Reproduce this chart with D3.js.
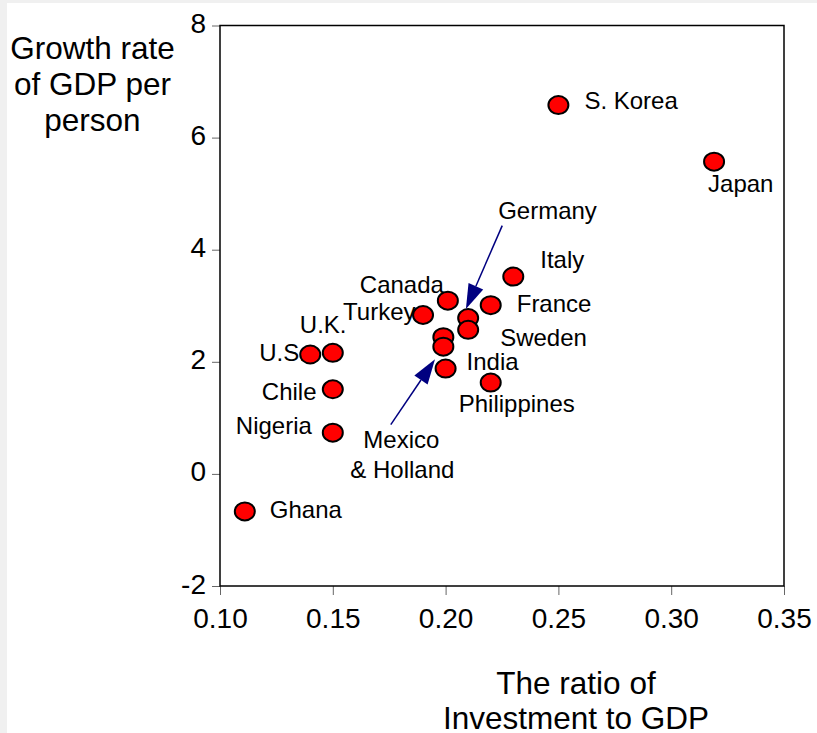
<!DOCTYPE html>
<html>
<head>
<meta charset="utf-8">
<script src="https://cdn.jsdelivr.net/npm/d3@7"></script>
<style>
  html, body { margin: 0; padding: 0; background: #f0f0f0; }
  svg { display: block; }
  text { font-family: "Liberation Sans", Arial, sans-serif; fill: #000; }
</style>
</head>
<body>
<svg id="chart" width="817" height="733"></svg>
<script>
// ---- data ----
const countries  = ["U.S.", "U.K.", "Chile", "Nigeria", "Turkey", "Canada", "Germany", "Sweden", "France", "Italy", "Mexico", "Holland", "India", "Philippines", "S. Korea", "Japan", "Ghana"];
const investment = [0.14, 0.15, 0.15, 0.15, 0.19, 0.201, 0.21, 0.21, 0.22, 0.23, 0.199, 0.199, 0.20, 0.22, 0.25, 0.319, 0.111];
const growth     = [2.13, 2.16, 1.51, 0.735, 2.835, 3.09, 2.78, 2.57, 3.01, 3.52, 2.44, 2.27, 1.88, 1.63, 6.58, 5.57, -0.67];
const xTicks = [0.10, 0.15, 0.20, 0.25, 0.30, 0.35];
const yTicks = [-2, 0, 2, 4, 6, 8];
const yTitle = ["Growth rate", "of GDP per", "person"];
const xTitle = ["The ratio of", "Investment to GDP"];
// annotation arrows (data units): [fromX, fromY, toX, toY]
const arrows = [
  [0.2251, 4.43, 0.2090, 2.94],
  [0.1757, 0.88, 0.1953, 2.045]
];

// ---- layout (pixel offsets of labels from their points) ----
const labelOffsets = {
  "U.S.": [-51, 6], "U.K.": [-33, -20], "Chile": [-71, 11], "Nigeria": [-97, 1],
  "Turkey": [-80, 5], "Canada": [-88, -8], "Germany": [30, -99], "Sweden": [32, 16],
  "France": [26, 7], "Italy": [27, -9], "India": [21, 1], "Philippines": [-32, 29],
  "S. Korea": [26, 4], "Japan": [-6, 30], "Ghana": [25, 7]
};

const svg = d3.select("#chart");
svg.append("rect").attr("x", 7).attr("y", 3).attr("width", 810).attr("height", 730).attr("fill", "#fff");

const mLeft = 220, mRight = 784, mTop = 25.5, mBottom = 586;
const x = d3.scaleLinear().domain([0.10, 0.35]).range([mLeft, mRight]);
const y = d3.scaleLinear().domain([-2, 8]).range([mBottom, mTop]);

// axes
const xAxis = svg.append("g").attr("transform", `translate(0,${mBottom})`)
  .call(d3.axisBottom(x).tickValues(xTicks).tickFormat(d3.format(".2f")).tickSize(9).tickPadding(11));
const yAxis = svg.append("g").attr("transform", `translate(${mLeft},0)`)
  .call(d3.axisLeft(y).tickValues(yTicks).tickFormat(d => String(d)).tickSize(8).tickPadding(6));
[xAxis, yAxis].forEach(g => {
  g.select(".domain").remove();
  g.selectAll(".tick line").attr("stroke", "#666").attr("stroke-width", 1);
  g.selectAll(".tick text").style("font-size", "28px").attr("fill", "#000")
    .style("font-family", '"Liberation Sans", Arial, sans-serif');
});
xAxis.selectAll(".tick text").attr("dy", "0.8em");
yAxis.selectAll(".tick text").attr("dy", "0.25em");

// frame
svg.append("rect").attr("x", mLeft).attr("y", mTop).attr("width", mRight - mLeft).attr("height", mBottom - mTop)
  .attr("fill", "none").attr("stroke", "#000").attr("stroke-width", 1.5);

// axis titles
svg.append("text").attr("text-anchor", "middle").style("font-size", "31.5px")
  .selectAll("tspan").data(yTitle).join("tspan")
  .attr("x", 92.5).attr("y", (d, i) => 59 + i * 36).text(d => d);
svg.append("text").attr("text-anchor", "middle").style("font-size", "31.5px")
  .selectAll("tspan").data(xTitle).join("tspan")
  .attr("x", 576).attr("y", (d, i) => 694 + i * 35).text(d => d);

const pts = countries.map((c, i) => ({ c, xv: investment[i], yv: growth[i] }));

// labels
const lab = svg.append("g").style("font-size", "24px");
pts.filter(p => labelOffsets[p.c]).forEach(p => {
  const o = labelOffsets[p.c];
  lab.append("text").attr("x", x(p.xv) + o[0]).attr("y", y(p.yv) + o[1]).text(p.c);
});
// Mexico & Holland combined label
const mex = pts.find(p => p.c === "Mexico");
const mt = lab.append("text").attr("text-anchor", "middle");
mt.append("tspan").attr("x", x(mex.xv) - 42).attr("y", y(mex.yv) + 111).text("Mexico");
mt.append("tspan").attr("x", x(mex.xv) - 41).attr("y", y(mex.yv) + 141).text("& Holland");

// points
svg.append("g").selectAll("ellipse").data(pts).join("ellipse")
  .attr("cx", d => x(d.xv)).attr("cy", d => y(d.yv))
  .attr("rx", 10).attr("ry", 9)
  .attr("fill", "#ff0000").attr("stroke", "#000").attr("stroke-width", 2);

// arrows
const navy = "#000080";
const ag = svg.append("g");
arrows.forEach(a => {
  const x1 = x(a[0]), y1 = y(a[1]), x2 = x(a[2]), y2 = y(a[3]);
  const ang = Math.atan2(y2 - y1, x2 - x1);
  const L = 25, W = 8;
  const bx = x2 - L * Math.cos(ang), by = y2 - L * Math.sin(ang);
  ag.append("line").attr("x1", x1).attr("y1", y1).attr("x2", bx).attr("y2", by)
    .attr("stroke", navy).attr("stroke-width", 1.5);
  const px = -Math.sin(ang), py = Math.cos(ang);
  ag.append("path")
    .attr("d", `M${x2},${y2}L${bx + W * px},${by + W * py}L${bx - W * px},${by - W * py}Z`)
    .attr("fill", navy);
});
</script>
</body>
</html>
